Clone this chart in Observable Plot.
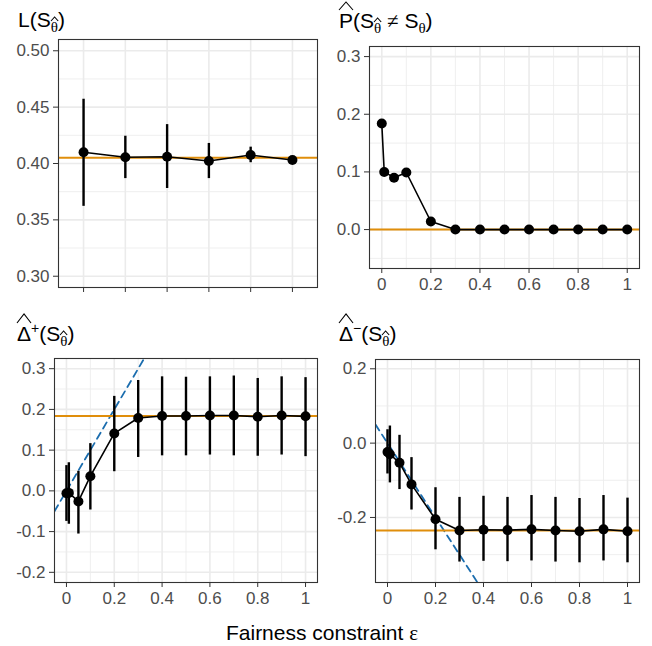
<!DOCTYPE html>
<html><head><meta charset="utf-8">
<script src="https://cdn.jsdelivr.net/npm/d3@7"></script>
<script src="https://cdn.jsdelivr.net/npm/@observablehq/plot@0.6"></script>
<style>
body{margin:0;background:#fff;}
#root{position:relative;width:652px;height:646px;overflow:hidden;background:#fff;font-family:"Liberation Sans",Arial,sans-serif;}
.ttl{position:absolute;font-size:21px;color:#000;white-space:nowrap;line-height:1;}
.hat{position:relative;display:inline-block;}
.hat svg{position:absolute;left:0;width:100%;overflow:visible;}
.hat svg polyline{fill:none;stroke:#000;stroke-width:1.1;vector-effect:non-scaling-stroke;}
.sub{font-size:15px;position:relative;top:5px;}
.gk{font-family:"Liberation Serif","DejaVu Serif",serif;}
.sup{font-size:14px;position:relative;top:-8px;}
#xlab{position:absolute;left:0;width:644px;text-align:center;top:622px;font-size:21px;line-height:1;color:#000;}
</style></head>
<body><div id="root"></div>
<script>
// ---- data ----
const eps = [0, 0.01, 0.05, 0.1, 0.2, 0.3, 0.4, 0.5, 0.6, 0.7, 0.8, 0.9, 1];
const xTicks = [0, 0.2, 0.4, 0.6, 0.8, 1];
const xMinor = [0.1, 0.3, 0.5, 0.7, 0.9];

// panel 1: loss, six settings
const lossSettings = [1, 2, 3, 4, 5, 6];
const lossMean = [0.410, 0.4055, 0.406, 0.4022, 0.4075, 0.4031];
const lossLo   = [0.362, 0.3866, 0.3778, 0.3866, 0.4007, 0.4026];
const lossHi   = [0.457, 0.4242, 0.4345, 0.4178, 0.4145, 0.4036];
const lossRef = 0.405;
const lossTicks = [0.30, 0.35, 0.40, 0.45, 0.50];
const lossMinor = [0.325, 0.375, 0.425, 0.475];

// panel 2: P(S_hat != S)
const pDiff = [0.184, 0.100, 0.090, 0.099, 0.014, 0, 0, 0, 0, 0, 0, 0, 0];
const pRef = 0;
const pTicks = [0, 0.1, 0.2, 0.3];
const pMinor = [-0.05, 0.05, 0.15, 0.25];

// panel 3: Delta+
const dPlus   = [-0.006, -0.005, -0.026, 0.036, 0.141, 0.179, 0.184, 0.184, 0.185, 0.185, 0.182, 0.185, 0.183];
const dPlusLo = [-0.075, -0.082, -0.106, -0.047, 0.047, 0.082, 0.086, 0.086, 0.088, 0.086, 0.085, 0.088, 0.084];
const dPlusHi = [0.062, 0.069, 0.048, 0.116, 0.232, 0.271, 0.280, 0.279, 0.280, 0.282, 0.276, 0.280, 0.278];
const dPlusRef = 0.1836;
const dPlusTicks = [-0.2, -0.1, 0, 0.1, 0.2, 0.3];
const dPlusMinor = [-0.15, -0.05, 0.05, 0.15, 0.25];

// panel 4: Delta-
const dMinus   = [-0.024, -0.030, -0.053, -0.111, -0.205, -0.235, -0.233, -0.234, -0.232, -0.235, -0.237, -0.232, -0.237];
const dMinusLo = [-0.083, -0.107, -0.125, -0.180, -0.287, -0.320, -0.318, -0.319, -0.317, -0.320, -0.322, -0.317, -0.322];
const dMinusHi = [0.036, 0.046, 0.021, -0.039, -0.120, -0.146, -0.143, -0.146, -0.141, -0.146, -0.149, -0.141, -0.148];
const dMinusRef = -0.235;
const dMinusTicks = [-0.2, 0, 0.2];
const dMinusMinor = [-0.3, -0.1, 0.1];

// ---- styling ----
const ORANGE = "#E08E0B";
const BLUE = "#1B6DAE";
const GRID = "#EBEBEB";
const root = document.getElementById("root");
const fmtX = v => String(v);
const fix = n => v => v.toFixed(n);

function rowsOf(xs, v, lo, hi) {
  return xs.map((x, i) => ({x, v: v[i], lo: lo ? lo[i] : v[i], hi: hi ? hi[i] : v[i]}));
}

function makePanel(cfg) {
  const {left, top, width, height, frame: [x0, x1, y0, y1], x, y, marks} = cfg;
  const chart = Plot.plot({
    width, height,
    marginLeft: x0 - left, marginRight: left + width - x1,
    marginTop: y0 - top, marginBottom: top + height - y1,
    x: {domain: x.domain, label: null, axis: null},
    y: {domain: y.domain, label: null, axis: null},
    style: {fontFamily: '"Liberation Sans", Arial, sans-serif', fontSize: "17px", background: "transparent", overflow: "visible"},
    marks: [
      Plot.gridY(y.minor, {stroke: GRID, strokeOpacity: 1, strokeWidth: 0.8}),
      x.minor ? Plot.gridX(x.minor, {stroke: GRID, strokeOpacity: 1, strokeWidth: 0.8}) : null,
      Plot.gridY(y.ticks, {stroke: GRID, strokeOpacity: 1, strokeWidth: 1.6}),
      Plot.gridX(x.ticks, {stroke: GRID, strokeOpacity: 1, strokeWidth: 1.6}),
      ...marks,
      Plot.frame({stroke: "#333333", strokeWidth: 1.1}),
      Plot.axisY(y.ticks, {tickSize: 5, tickPadding: 4, tickFormat: y.format, stroke: "#333333", fill: "#4D4D4D", label: null}),
      Plot.axisX(x.ticks, {tickSize: 5, tickPadding: 4, tickFormat: x.format, stroke: "#333333", fill: "#4D4D4D", label: null})
    ]
  });
  chart.style.position = "absolute";
  chart.style.left = left + "px";
  chart.style.top = top + "px";
  root.appendChild(chart);
}

function dataMarks(rows, ref, diag) {
  const m = [];
  if (diag) m.push(Plot.line(diag, {x: "x", y: "y", stroke: BLUE, strokeWidth: 1.8, strokeDasharray: "7,5", clip: true}));
  m.push(Plot.ruleY([ref], {stroke: ORANGE, strokeWidth: 2}));
  m.push(Plot.ruleX(rows, {x: "x", y1: "lo", y2: "hi", stroke: "black", strokeWidth: 2.4}));
  m.push(Plot.line(rows, {x: "x", y: "v", stroke: "black", strokeWidth: 1.6}));
  m.push(Plot.dot(rows, {x: "x", y: "v", r: 5, fill: "black", stroke: "none"}));
  return m;
}

const epsDomain = [-0.05, 1.05];

// Top-left: loss
makePanel({
  left: 0, top: 30, width: 326, height: 300, frame: [58, 317, 39, 287],
  x: {domain: [0.4, 6.6], ticks: lossSettings, minor: null, format: () => ""},
  y: {domain: [0.29, 0.51], ticks: lossTicks, minor: lossMinor, format: fix(2)},
  marks: dataMarks(rowsOf(lossSettings, lossMean, lossLo, lossHi), lossRef)
});

// Top-right: P
makePanel({
  left: 326, top: 30, width: 326, height: 280, frame: [369, 639, 46, 268],
  x: {domain: epsDomain, ticks: xTicks, minor: xMinor, format: fmtX},
  y: {domain: [-0.0675, 0.3175], ticks: pTicks, minor: pMinor, format: fix(1)},
  marks: dataMarks(rowsOf(eps, pDiff), pRef)
});

// Bottom-left: Delta+
makePanel({
  left: 0, top: 345, width: 326, height: 270, frame: [54, 317, 358, 582],
  x: {domain: epsDomain, ticks: xTicks, minor: xMinor, format: fmtX},
  y: {domain: [-0.225, 0.325], ticks: dPlusTicks, minor: dPlusMinor, format: fix(1)},
  marks: dataMarks(rowsOf(eps, dPlus, dPlusLo, dPlusHi), dPlusRef, epsDomain.map(e => ({x: e, y: e})))
});

// Bottom-right: Delta-
makePanel({
  left: 326, top: 345, width: 326, height: 270, frame: [375, 639, 359, 582],
  x: {domain: epsDomain, ticks: xTicks, minor: xMinor, format: fmtX},
  y: {domain: [-0.375, 0.225], ticks: dMinusTicks, minor: dMinusMinor, format: fix(1)},
  marks: dataMarks(rowsOf(eps, dMinus, dMinusLo, dMinusHi), dMinusRef, epsDomain.map(e => ({x: e, y: -e})))
});

// ---- titles ----
function hat(inner, top, h) {
  return `<span class="hat">${inner}<svg style="top:${top}px;height:${h}px" viewBox="0 0 10 10" preserveAspectRatio="none"><polyline points="0,10 5,0 10,10"/></svg></span>`;
}
const thetaHat = `<span class="sub">${hat('<span class="gk">θ</span>', -2, 4)}</span>`;
const thetaSub = `<span class="sub gk">θ</span>`;
const titles = [
  {left: 18, top: 9, html: `L(S${thetaHat})`},
  {left: 339, top: 10, html: `${hat("P", -8, 8)}(S${thetaHat} <span class="gk">≠</span> S${thetaSub})`},
  {left: 17, top: 323, html: `${hat("Δ", -9, 9)}<span class="sup">+</span>(S${thetaHat})`},
  {left: 339, top: 323, html: `${hat("Δ", -9, 9)}<span class="sup">−</span>(S${thetaHat})`}
];
for (const t of titles) {
  const d = document.createElement("div");
  d.className = "ttl";
  d.style.left = t.left + "px";
  d.style.top = t.top + "px";
  d.innerHTML = t.html;
  root.appendChild(d);
}
const xl = document.createElement("div");
xl.id = "xlab";
xl.innerHTML = 'Fairness constraint <span class="gk">ε</span>';
root.appendChild(xl);
</script>
</body></html>
